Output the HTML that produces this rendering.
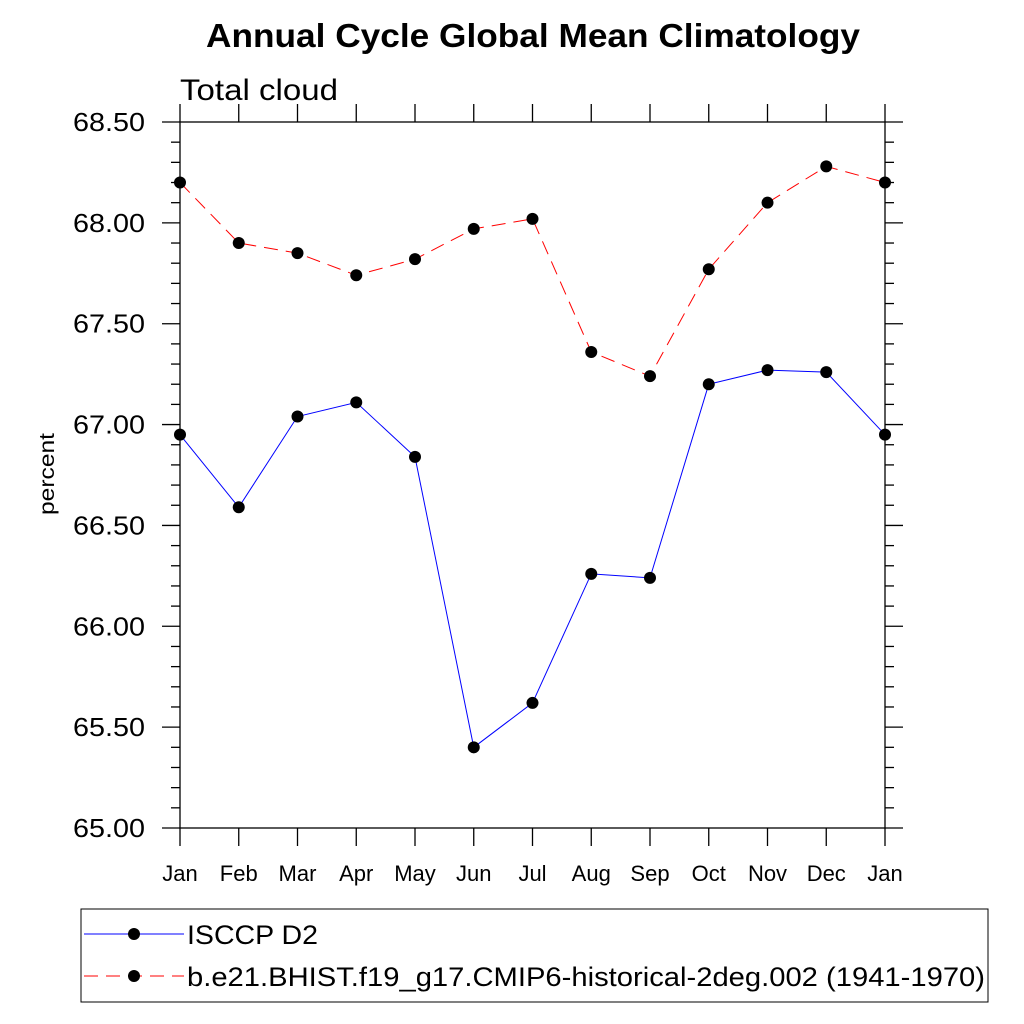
<!DOCTYPE html>
<html><head><meta charset="utf-8"><style>
body{margin:0;background:#fff}
svg{display:block;font-family:"Liberation Sans",sans-serif}
</style></head><body>
<svg id="chart" width="1024" height="1024" viewBox="0 0 1024 1024">
<text x="206" y="47" font-size="33" font-weight="bold" textLength="654" lengthAdjust="spacingAndGlyphs">Annual Cycle Global Mean Climatology</text>
<text x="180" y="100" font-size="30" textLength="158" lengthAdjust="spacingAndGlyphs">Total cloud</text>
<text transform="translate(54,515) rotate(-90)" font-size="21" textLength="82" lengthAdjust="spacingAndGlyphs">percent</text>
<g id="axes" stroke="#000" stroke-width="1.3" fill="none"></g>
<g id="series"></g>
<rect x="81" y="909" width="907" height="93" fill="none" stroke="#000" stroke-width="1"/>
<line x1="84" y1="934" x2="184" y2="934" stroke="#00f" stroke-width="1"/>
<circle cx="134" cy="934" r="6" fill="#000"/>
<text x="187" y="944" font-size="27" textLength="131" lengthAdjust="spacingAndGlyphs">ISCCP D2</text>
<line x1="84" y1="976" x2="184" y2="976" stroke="#f00" stroke-width="1" stroke-dasharray="14,8"/>
<circle cx="134" cy="976" r="6" fill="#000"/>
<text x="187" y="986" font-size="27" textLength="798" lengthAdjust="spacingAndGlyphs">b.e21.BHIST.f19_g17.CMIP6-historical-2deg.002 (1941-1970)</text>
</svg>
<script>
const months=["Jan","Feb","Mar","Apr","May","Jun","Jul","Aug","Sep","Oct","Nov","Dec","Jan"];
const isccp=[66.95,66.59,67.04,67.11,66.84,65.40,65.62,66.26,66.24,67.20,67.27,67.26,66.95];
const model=[68.20,67.90,67.85,67.74,67.82,67.97,68.02,67.36,67.24,67.77,68.10,68.28,68.20];
const yTicks=[65.00,65.50,66.00,66.50,67.00,67.50,68.00,68.50];
const NS="http://www.w3.org/2000/svg";
const X0=180,X1=885,Y0=828,Y1=122,YMIN=65,YMAX=68.5;
const xs=i=>X0+(X1-X0)*i/(months.length-1);
const ys=v=>Y0-(v-YMIN)/(YMAX-YMIN)*(Y0-Y1);
function mk(tag,attrs,parent){const e=document.createElementNS(NS,tag);for(const k in attrs)e.setAttribute(k,attrs[k]);parent.appendChild(e);return e;}
const ax=document.getElementById('axes');
const frame=mk('rect',{x:X0,y:Y1,width:X1-X0,height:Y0-Y1},ax);


const svg=document.getElementById('chart');
for(let v=YMIN;v<=YMAX+1e-6;v+=0.1){
  const y=ys(v);const major=Math.abs(v*2-Math.round(v*2))<1e-6;const L=major?18:9;
  const t1=mk('line',{x1:X0-L,y1:y,x2:X0,y2:y},ax);
  
  
  const t2=mk('line',{x1:X1,y1:y,x2:X1+L,y2:y},ax);
  
  
}
yTicks.forEach(v=>{
  const t=mk('text',{x:73,y:ys(v)+9,'font-size':'26',textLength:'72',lengthAdjust:'spacingAndGlyphs'},svg);
  t.textContent=v.toFixed(2);
  
  
});
months.forEach((m,i)=>{
  const x=xs(i);
  const a=mk('line',{x1:x,y1:Y0,x2:x,y2:Y0+18},ax);
  
  
  const b=mk('line',{x1:x,y1:Y1-18,x2:x,y2:Y1},ax);
  
  
  const t=mk('text',{x:x,y:881,'text-anchor':'middle','font-size':'22'},svg);
  t.textContent=m;
  
  
});
const sg=document.getElementById('series');
function draw(vals,color,dash,name){
  const pts=vals.map((v,i)=>xs(i)+','+ys(v)).join(' ');
  const pl=mk('polyline',{points:pts,fill:'none',stroke:color,'stroke-width':1,'stroke-dasharray':dash},sg);
  
  
  vals.forEach((v,i)=>{
    const c=mk('circle',{cx:xs(i),cy:ys(v),r:6,fill:'#000'},sg);
    
    
  });
}
draw(isccp,'#00f','none','isccp');
draw(model,'#f00','14,8','model');
</script>
</body></html>
